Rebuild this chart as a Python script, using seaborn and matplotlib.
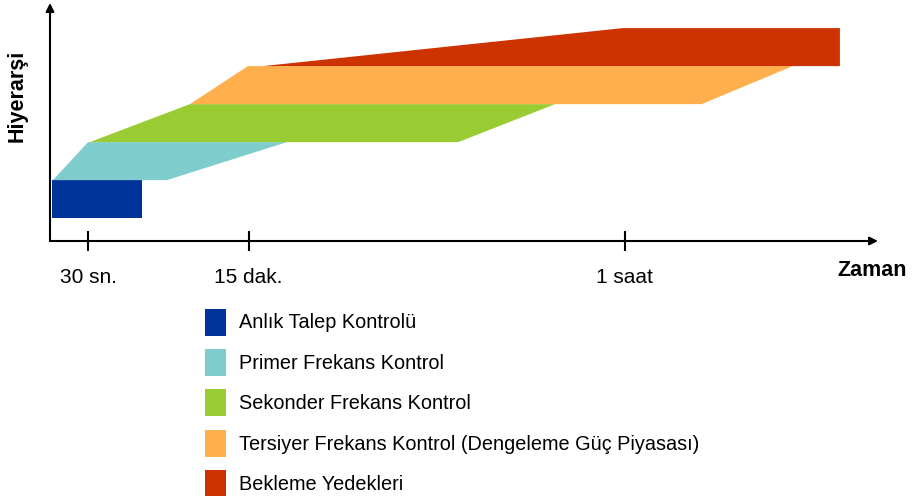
import matplotlib
matplotlib.use("Agg")
import matplotlib.pyplot as plt
import seaborn as sns
from matplotlib.patches import Patch

# ---- data ----
categories = ["Anlık Talep Kontrolü", "Primer Frekans Kontrol", "Sekonder Frekans Kontrol",
              "Tersiyer Frekans Kontrol (Dengeleme Güç Piyasası)", "Bekleme Yedekleri"]
colors = ["#003399", "#7FCCCC", "#99CC33", "#FFB04D", "#CC3300"]
levels = [1, 2, 3, 4, 5]                         # hierarchy level of each band
left_bottom = [0.24, 0.36, 4.8, 16.9, 25.7]       # time where band starts (bottom edge)
left_top = [0.24, 4.6, 16.9, 23.9, 69.2]          # time where band starts (top edge)
right_top = [11.1, 28.6, 61.0, 89.7, 95.4]        # time where band ends (top edge)
right_bottom = [11.1, 14.1, 49.3, 78.7, 95.4]     # time where band ends (bottom edge)
tick_pos = [4.6, 24.0, 69.4]
tick_labels = ["30 sn.", "15 dak.", "1 saat"]

sns.set_theme(style="white")
plt.rcParams["font.family"] = ["Liberation Sans", "DejaVu Sans"]
plt.rcParams["text.color"] = "black"
plt.rcParams["xtick.color"] = "black"
plt.rcParams["axes.labelcolor"] = "black"

fig = plt.figure(figsize=(9.18, 4.96), dpi=100)
ax = fig.add_axes([50 / 918, (496 - 241) / 496, 828 / 918, 238 / 496])
ax.set_xlim(0, 100)
ax.set_ylim(0, 6.26)

for lv, lb, lt, rt, rb, c in zip(levels, left_bottom, left_top, right_top, right_bottom, colors):
    y0, y1 = lv - 0.4, lv + 0.6
    ax.fill([lb, lt, rt, rb], [y0, y1, y1, y0], color=c, lw=0)

sns.despine(ax=ax, left=True, bottom=True, top=True, right=True)
ax.annotate("", xy=(1.0, 0), xytext=(0, 0), xycoords="axes fraction",
            arrowprops=dict(arrowstyle="-|>", color="black", lw=1.5, mutation_scale=12,
                            shrinkA=0, shrinkB=0))
ax.annotate("", xy=(0, 1.0), xytext=(0, 0), xycoords="axes fraction",
            arrowprops=dict(arrowstyle="-|>", color="black", lw=1.5, mutation_scale=12,
                            shrinkA=0, shrinkB=0))

ax.set_xticks(tick_pos)
ax.set_xticklabels(tick_labels, fontsize=15)
ax.set_yticks([])
ax.tick_params(axis="x", direction="inout", length=14, width=1.5, color="black",
               pad=12.5, labelcolor="black", bottom=True)

fig.text(872 / 918, 1 - 270 / 496, "Zaman", ha="center", va="center",
         fontsize=15.5, fontweight="bold", color="black")
fig.text(17 / 918, 1 - 96 / 496, "Hiyerarşi", ha="center", va="center",
         rotation=90, fontsize=15.5, fontweight="bold", color="black")

handles = [Patch(facecolor=c, edgecolor="none") for c in colors]
leg = fig.legend(handles, categories, loc="upper left", bbox_to_anchor=(205 / 918, 1 - 308.5 / 496),
                 frameon=False, fontsize=14.3, handlelength=1.056, handleheight=1.715,
                 handletextpad=0.64, labelspacing=0.675, borderpad=0, borderaxespad=0)
for t in leg.get_texts():
    t.set_color("black")

fig.savefig("out.png", dpi=100)
